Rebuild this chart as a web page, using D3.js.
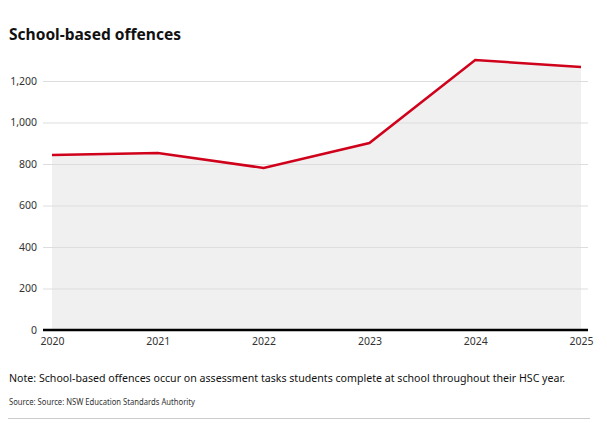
<!DOCTYPE html>
<html>
<head>
<meta charset="utf-8">
<script src="https://cdn.jsdelivr.net/npm/d3@7"></script>
<style>
  body { margin: 0; background: #fff; }
  text { font-family: "Noto Sans", sans-serif; }
</style>
</head>
<body>
<script>
var years = [2020, 2021, 2022, 2023, 2024, 2025];
var offences = [843, 853, 781, 901, 1301, 1267];
var yTicks = [0, 200, 400, 600, 800, 1000, 1200];

var width = 607, height = 423;
var margin = { top: 60, right: 26, bottom: 93, left: 52 };

var svg = d3.select("body").append("svg")
    .attr("width", width)
    .attr("height", height);

var x = d3.scaleLinear()
    .domain([2020, 2025])
    .range([margin.left, width - margin.right]);

var y = d3.scaleLinear()
    .domain([0, 1200])
    .range([height - margin.bottom, 81]);

var data = years.map(function (d, i) { return { year: d, value: offences[i] }; });

// title
svg.append("text")
    .attr("x", 9).attr("y", 40)
    .attr("font-size", 16).attr("font-weight", "bold")
    .attr("fill", "#111")
    .attr("textLength", 172).attr("lengthAdjust", "spacingAndGlyphs")
    .text("School-based offences");

// gridlines + y labels
var yAxis = svg.append("g")
    .attr("transform", "translate(" + 43 + ",0)")
    .call(d3.axisLeft(y).tickValues(yTicks).tickSize(-(width - 19 - 43)).tickPadding(6)
        .tickFormat(d3.format(",")));
yAxis.select(".domain").remove();
yAxis.selectAll(".tick line").attr("stroke", "#ddd");
yAxis.selectAll(".tick text").attr("fill", "#333").attr("font-size", 10.5)
    .style("font-family", "Noto Sans");

// area
svg.append("path")
    .datum(data)
    .attr("fill", "#f0f0f0")
    .attr("d", d3.area().x(function (d) { return x(d.year); })
        .y0(y(0)).y1(function (d) { return y(d.value); }));

yAxis.raise();

// zero baseline
svg.append("line")
    .attr("x1", 43).attr("x2", width - 19)
    .attr("y1", y(0)).attr("y2", y(0))
    .attr("stroke", "#000").attr("stroke-width", 2.5);

// line
svg.append("path")
    .datum(data)
    .attr("fill", "none")
    .attr("stroke", "#d0021b")
    .attr("stroke-width", 2.5)
    .attr("d", d3.line().x(function (d) { return x(d.year); }).y(function (d) { return y(d.value); }));

// x axis
var xAxis = svg.append("g")
    .attr("transform", "translate(0," + (y(0) + 2) + ")")
    .call(d3.axisBottom(x).tickValues(years).tickSize(0).tickPadding(6).tickFormat(d3.format("d")));
xAxis.select(".domain").remove();
xAxis.selectAll(".tick text").attr("fill", "#333").attr("font-size", 10.5)
    .style("font-family", "Noto Sans");

// note and source
svg.append("text")
    .attr("x", 9).attr("y", 382)
    .attr("font-size", 10.5).attr("fill", "#111")
    .attr("textLength", 556).attr("lengthAdjust", "spacingAndGlyphs")
    .text("Note: School-based offences occur on assessment tasks students complete at school throughout their HSC year.");

svg.append("text")
    .attr("x", 9).attr("y", 405)
    .attr("font-size", 9).attr("fill", "#333")
    .attr("textLength", 186).attr("lengthAdjust", "spacingAndGlyphs")
    .text("Source: Source: NSW Education Standards Authority");

svg.append("line")
    .attr("x1", 8).attr("x2", 590)
    .attr("y1", 418.5).attr("y2", 418.5)
    .attr("stroke", "#ccc").attr("stroke-width", 1);
</script>
</body>
</html>
